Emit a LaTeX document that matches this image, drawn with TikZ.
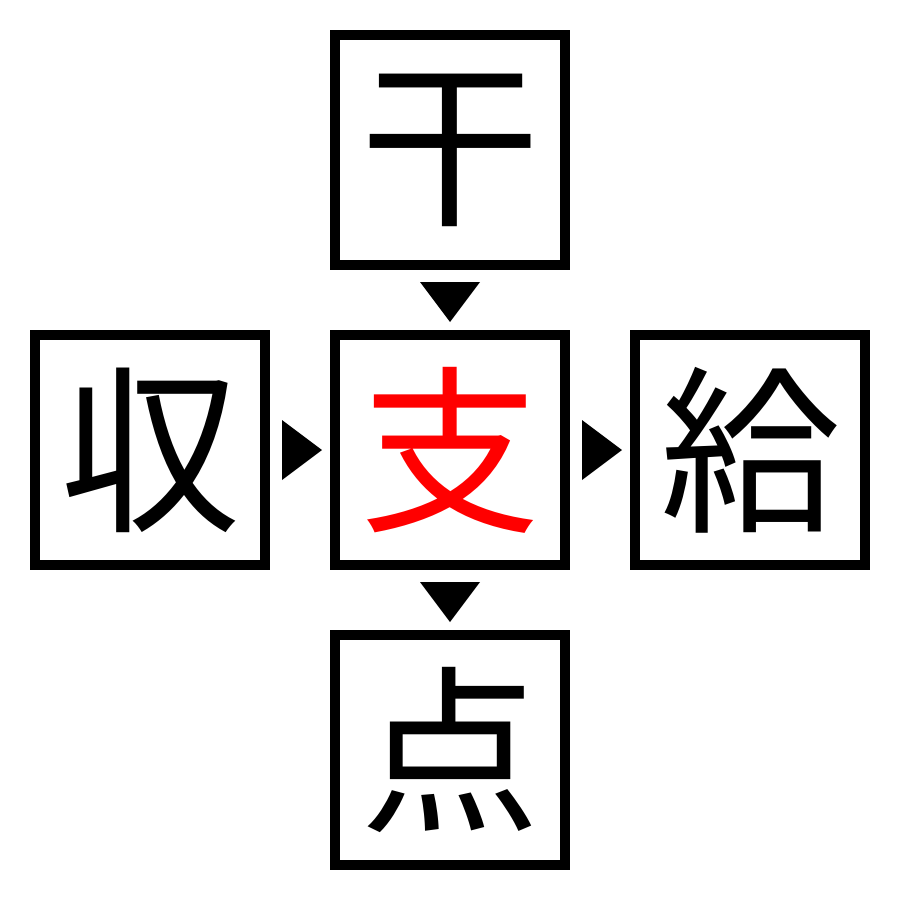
\documentclass[tikz,border=0pt]{standalone}
\usepackage{fontspec}
\newfontfamily\cjk{Noto Sans CJK JP}
\begin{document}
\begin{tikzpicture}[x=1pt,y=-1pt,
  kbox/.style={draw=black,line width=10pt,minimum size=230pt,inner sep=0pt,font=\cjk\fontsize{180}{180}\selectfont},
  tri/.style={fill=black,draw=none}]
\useasboundingbox (0,0) rectangle (900,900);
\node[kbox] (top) at (450,150) {干};
\node[kbox] (left) at (150,450) {収};
\node[kbox,text=red] (mid) at (450,450) {支};
\node[kbox] (right) at (750,450) {給};
\node[kbox] (bot) at (450,750) {点};
\fill[tri] (420,282) -- (480,282) -- (450,322) -- cycle;
\fill[tri] (420,582) -- (480,582) -- (450,622) -- cycle;
\fill[tri] (282,420) -- (282,480) -- (322,450) -- cycle;
\fill[tri] (582,420) -- (582,480) -- (622,450) -- cycle;
\end{tikzpicture}
\end{document}
